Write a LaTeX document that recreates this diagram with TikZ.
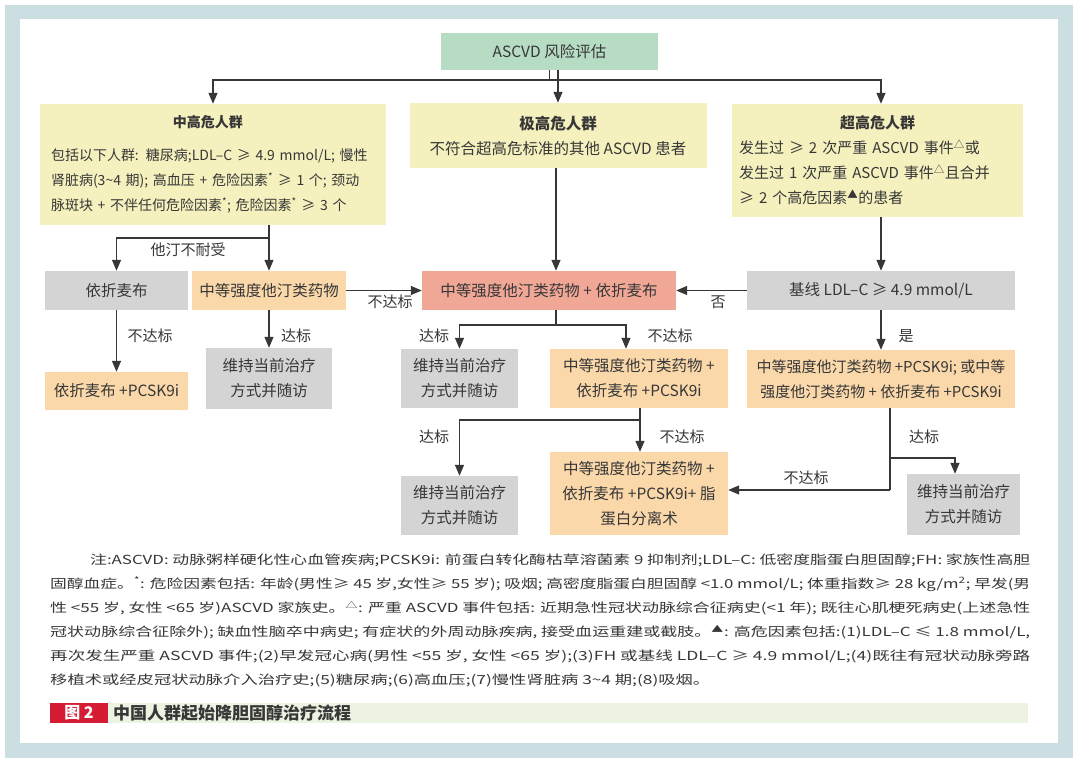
\documentclass[tikz,border=0pt]{standalone}
\usepackage{fontspec}
\setmainfont{Noto Sans CJK SC}
\usepackage{graphicx}
\usepackage{xcolor}
\usetikzlibrary{arrows.meta,positioning}

\definecolor{frame}{RGB}{203,223,226}
\definecolor{txt}{RGB}{55,55,55}
\definecolor{ascgreen}{RGB}{183,220,196}
\definecolor{riskyel}{RGB}{245,241,190}
\definecolor{drugor}{RGB}{250,216,170}
\definecolor{keepgr}{RGB}{212,212,212}
\definecolor{combred}{RGB}{241,167,150}
\definecolor{capred}{RGB}{214,28,52}
\definecolor{capband}{RGB}{236,243,226}

\begin{document}
\begin{tikzpicture}[x=1pt,y=-1pt,
    box/.style={inner sep=0pt,align=center,text=txt,font=\fontsize{15.5}{25}\selectfont},
    arr/.style={-{Triangle[length=11pt,width=9pt]},draw=txt,line width=1.3pt},
    lab/.style={text=txt,font=\fontsize{15}{17}\selectfont,inner sep=1pt}]
    \useasboundingbox (0,0) rectangle (1080,762);
    % Frame
    \fill[frame] (5,5) rectangle (1073,758);
    \fill[white] (20,19) rectangle (1058,743);

    % Nodes
    \node[box,fill=ascgreen,minimum width=217pt,minimum height=37pt] (asc) at (549.5,51.5) {ASCVD 风险评估};
    \node[box,fill=riskyel,minimum width=346pt,minimum height=121pt,align=left,text width=336pt,font=\fontsize{14}{25}\selectfont] (mid) at (213,164.5)
        {\makebox[326pt]{\bfseries 中高危人群}\\[8pt]
         \hspace*{6pt}包括以下人群: 糖尿病;LDL–C ≥ 4.9 mmol/L; 慢性\\
         \hspace*{6pt}肾脏病(3\textasciitilde 4 期); 高血压 + 危险因素\textsuperscript{*} ≥ 1 个; 颈动\\
         \hspace*{6pt}脉斑块 + 不伴任何危险因素\textsuperscript{*}; 危险因素\textsuperscript{*} ≥ 3 个};
    \node[box,fill=riskyel,minimum width=297pt,minimum height=65pt] (vh) at (558,135.5)
        {{\bfseries 极高危人群}\\不符合超高危标准的其他 ASCVD 患者};
    \node[box,fill=riskyel,minimum width=291pt,minimum height=113pt,align=left,text width=277pt,font=\fontsize{15}{25}\selectfont] (uh) at (877.5,160.5)
        {\makebox[277pt]{\bfseries 超高危人群}\\
         发生过 ≥ 2 次严重 ASCVD 事件\textsuperscript{△}或\\
         发生过 1 次严重 ASCVD 事件\textsuperscript{△}且合并\\
         ≥ 2 个高危因素\textsuperscript{▲}的患者};
    \node[box,fill=keepgr,minimum width=143pt,minimum height=39pt] (eze) at (116.5,290.5) {依折麦布};
    \node[box,fill=drugor,minimum width=154pt,minimum height=39pt] (sta) at (269,290.5) {中等强度他汀类药物};
    \node[box,fill=combred,minimum width=254pt,minimum height=39pt] (comb) at (549,290.5) {中等强度他汀类药物 + 依折麦布};
    \node[box,fill=keepgr,minimum width=268pt,minimum height=39pt] (base) at (881,290.5) {基线 LDL–C ≥ 4.9 mmol/L};
    \node[box,fill=drugor,minimum width=143pt,minimum height=38pt] (ezp) at (116.5,391) {依折麦布 +PCSK9i};
    \node[box,fill=keepgr,minimum width=126pt,minimum height=61pt] (keepa) at (269,378.5) {维持当前治疗\\方式并随访};
    \node[box,fill=keepgr,minimum width=117pt,minimum height=59pt] (keepb) at (459.5,378.5) {维持当前治疗\\方式并随访};
    \node[box,fill=drugor,minimum width=178pt,minimum height=59pt] (trip) at (639,378.5) {中等强度他汀类药物 +\\依折麦布 +PCSK9i};
    \node[box,fill=drugor,minimum width=268pt,minimum height=58pt,font=\fontsize{15}{25}\selectfont] (pcs) at (881,379) {中等强度他汀类药物 +PCSK9i; 或中等\\强度他汀类药物 + 依折麦布 +PCSK9i};
    \node[box,fill=keepgr,minimum width=117pt,minimum height=59pt] (keepc) at (459.5,505.5) {维持当前治疗\\方式并随访};
    \node[box,fill=drugor,minimum width=178pt,minimum height=83pt] (quad) at (639,493.5) {中等强度他汀类药物 +\\依折麦布 +PCSK9i+ 脂\\蛋白分离术};
    \node[box,fill=keepgr,minimum width=113pt,minimum height=61pt] (keepd) at (963.5,504.5) {维持当前治疗\\方式并随访};

    % Branch points
    \coordinate (top) at (549.5,80);
    \coordinate (midbr) at (269,238);
    \coordinate (combbr) at (556,325);
    \coordinate (tripbr) at (640,420);
    \coordinate (pcsbr) at (890,458);
    \coordinate (pcsend) at (890,490);

    % Arrows
    \draw[arr] (asc) -- (top) -| (mid);
    \draw[arr] (top) -| (uh.north -| base);
    \draw[arr] (asc.south -| vh.south) -- (vh);
    \draw[line width=1.3pt,draw=txt] (mid.south -| midbr) -- (midbr);
    \draw[arr] (midbr) -- (sta);
    \draw[arr] (midbr) -| (eze);
    \draw[arr] (vh.south -| combbr) -- (comb.north -| combbr);
    \draw[arr] (uh.south -| base) -- (base);
    \draw[arr] (sta) -- (comb);
    \draw[arr] (base) -- (comb);
    \draw[arr] (eze) -- (ezp);
    \draw[arr] (sta) -- (keepa);
    \draw[line width=1.3pt,draw=txt] (comb.south -| combbr) -- (combbr);
    \draw[arr] (combbr) -| (keepb);
    \draw[arr] (combbr) -| (trip.north -| 626,0);
    \draw[arr] (base) -- (pcs);
    \draw[line width=1.3pt,draw=txt] (trip.south -| tripbr) -- (tripbr);
    \draw[arr] (tripbr) -| (keepc);
    \draw[arr] (tripbr) -- (quad.north -| tripbr);
    \draw[line width=1.3pt,draw=txt] (pcs.south -| pcsbr) -- (pcsend);
    \draw[arr] (pcsend) -- (quad.east |- pcsend);
    \draw[arr] (pcsbr) -| (keepd.north -| 955,0);

    % Labels
    \node[lab] (l1) at (188,250) {他汀不耐受};
    \node[lab] (l2) at (390,302) {不达标};
    \node[lab] (l3) at (718,302) {否};
    \node[lab] (l4) at (150,336) {不达标};
    \node[lab] (l5) at (296,336) {达标};
    \node[lab] (l6) at (434,336) {达标};
    \node[lab] (l7) at (670,336) {不达标};
    \node[lab] (l8) at (906,336) {是};
    \node[lab] (l9) at (434,437) {达标};
    \node[lab] (l10) at (682,437) {不达标};
    \node[lab] (l11) at (806,478) {不达标};
    \node[lab] (l12) at (924,437) {达标};

    % Notes
    \tikzset{note/.style={anchor=west,inner sep=0pt,text=txt,font=\fontsize{12.5}{14}\selectfont}}
    \node[note] (n1) at (90,560) {\resizebox{940pt}{\height}{注:ASCVD: 动脉粥样硬化性心血管疾病;PCSK9i: 前蛋白转化酶枯草溶菌素 9 抑制剂;LDL–C: 低密度脂蛋白胆固醇;FH: 家族性高胆}};
    \node[note] (n2) at (50,584) {\resizebox{980pt}{\height}{固醇血症。\textsuperscript{*}: 危险因素包括: 年龄(男性≥ 45 岁,女性≥ 55 岁); 吸烟; 高密度脂蛋白胆固醇 <1.0 mmol/L; 体重指数≥ 28 kg/m\textsuperscript{2}; 早发(男}};
    \node[note] (n3) at (50,608) {\resizebox{980pt}{\height}{性 <55 岁, 女性 <65 岁)ASCVD 家族史。\textsuperscript{△}: 严重 ASCVD 事件包括: 近期急性冠状动脉综合征病史(<1 年); 既往心肌梗死病史(上述急性}};
    \node[note] (n4) at (50,632) {\resizebox{980pt}{\height}{冠状动脉综合征除外); 缺血性脑卒中病史; 有症状的外周动脉疾病, 接受血运重建或截肢。\textsuperscript{▲}: 高危因素包括:(1)LDL–C ≤ 1.8 mmol/L,}};
    \node[note] (n5) at (50,656) {\resizebox{980pt}{\height}{再次发生严重 ASCVD 事件;(2)早发冠心病(男性 <55 岁, 女性 <65 岁);(3)FH 或基线 LDL–C ≥ 4.9 mmol/L;(4)既往有冠状动脉旁路}};
    \node[note] (n6) at (50,680) {\resizebox{660pt}{\height}{移植术或经皮冠状动脉介入治疗史;(5)糖尿病;(6)高血压;(7)慢性肾脏病 3\textasciitilde 4 期;(8)吸烟。}};

    % Caption
    \fill[capband] (108,703) rectangle (1028,723);
    \node[fill=capred,text=white,minimum width=58pt,minimum height=20pt,inner sep=0pt,font=\fontsize{16}{18}\selectfont\bfseries] (fig) at (79,713) {图 2};
    \node[anchor=west,text=txt,inner sep=0pt,font=\fontsize{17}{19}\selectfont\bfseries] (cap) at (113,713) {中国人群起始降胆固醇治疗流程};
\end{tikzpicture}
\end{document}
